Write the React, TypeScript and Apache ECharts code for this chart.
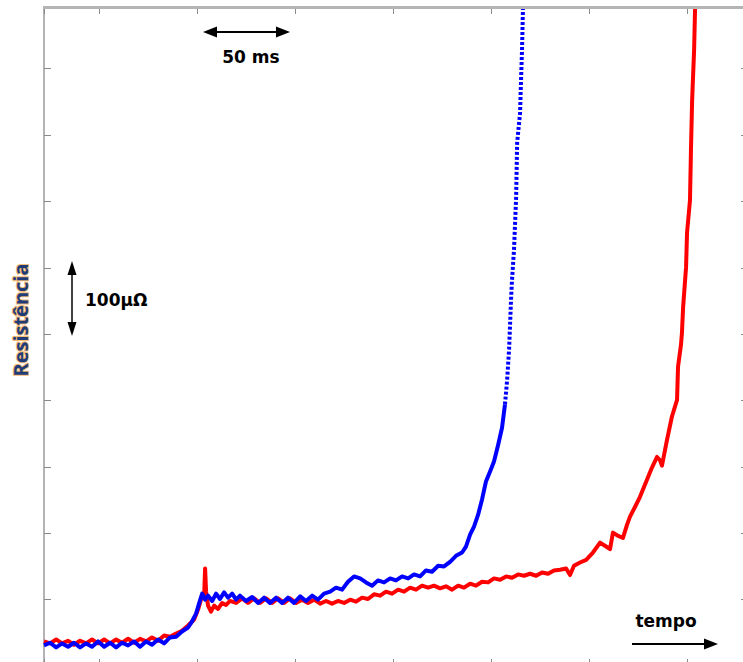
import React, { useEffect, useRef } from "react";
import * as echarts from "echarts";

// time in ms, resistance in µΩ
const blueTime = [
  21.9, 25.0, 28.1, 31.1, 34.2, 37.2, 40.3, 43.4, 46.4, 49.5, 52.6, 55.6, 58.7, 61.7, 64.8, 67.9, 70.9, 74.0, 77.0, 80.1,
  83.2, 86.2, 89.3, 92.3, 95.4, 97.4, 99.5, 101.0, 102.6, 104.1, 105.6, 107.7, 109.7, 111.7, 113.8, 115.8, 117.9, 119.9, 121.9, 125.0,
  128.1, 131.1, 134.2, 137.2, 140.3, 143.4, 146.4, 149.5, 152.6, 155.6, 158.7, 161.7, 164.8, 167.9, 170.9, 174.0, 177.0, 180.1, 183.2, 186.2,
  189.3, 192.3, 195.4, 198.5, 201.5, 204.6, 207.7, 210.7, 213.8, 216.8, 219.9, 223.0, 226.0, 229.1, 232.1, 235.2, 237.2, 239.3, 241.3, 243.4,
  245.4, 247.4, 249.5, 251.5, 253.6, 255.6, 257.1, 258.2, 259.2, 260.2, 260.7, 261.7, 262.8, 263.3, 264.8, 265.3, 265.8, 266.3,
];
const blueRes = [
  31, 35, 28, 34, 29, 35, 28, 34, 29, 37, 29, 35, 28, 35, 31, 37, 29, 37, 32, 40,
  34, 43, 44, 52, 58, 67, 79, 94, 109, 100, 106, 98, 109, 101, 111, 103, 109, 100, 106, 98,
  104, 95, 103, 95, 103, 95, 103, 95, 105, 98, 106, 100, 109, 112, 118, 115, 127, 135, 132, 126,
  121, 129, 126, 132, 129, 135, 132, 138, 135, 144, 142, 151, 150, 157, 166, 171, 180, 198, 210, 228,
  251, 278, 293, 308, 333, 359, 394, 431, 477, 552, 582, 627, 707, 788, 833, 883, 928, 992,
];

const redTime = [
  21.9, 25.0, 28.1, 31.1, 34.2, 37.2, 40.3, 43.4, 46.4, 49.5, 52.6, 55.6, 58.7, 61.7, 64.8, 67.9, 70.9, 74.0, 77.0, 80.1,
  83.2, 86.2, 89.3, 92.3, 95.4, 98.5, 100.5, 102.0, 103.6, 104.1, 104.6, 105.6, 107.1, 108.7, 110.7, 112.8, 114.8, 116.8, 119.9, 123.0,
  126.0, 129.1, 132.1, 135.2, 138.3, 141.3, 144.4, 147.4, 150.5, 153.6, 156.6, 159.7, 162.8, 165.8, 168.9, 171.9, 175.0, 178.1, 181.1, 184.2,
  187.2, 190.3, 193.4, 196.4, 199.5, 202.6, 205.6, 208.7, 211.7, 214.8, 217.9, 220.9, 224.0, 227.0, 230.1, 233.2, 236.2, 239.3, 242.3, 245.4,
  248.5, 251.5, 254.6, 257.7, 260.7, 263.8, 266.8, 269.9, 273.0, 276.0, 279.1, 282.1, 285.2, 288.3, 290.3, 292.3, 295.4, 298.5, 302.0, 305.6,
  308.7, 310.7, 312.2, 314.8, 317.3, 319.4, 320.9, 323.5, 326.0, 329.6, 332.1, 334.7, 336.2, 337.2, 338.8, 339.8, 342.3, 344.9, 345.4, 346.9,
  347.4, 348.0, 349.5, 350.0, 351.5, 352.0, 352.6, 353.6, 354.1,
];
const redRes = [
  37, 34, 40, 34, 38, 32, 38, 34, 40, 34, 40, 34, 40, 35, 41, 35, 41, 37, 43, 38,
  46, 44, 49, 53, 61, 70, 85, 100, 105, 147, 112, 91, 82, 91, 86, 95, 92, 98, 95, 102,
  95, 102, 95, 102, 95, 102, 95, 102, 95, 100, 95, 100, 94, 98, 94, 98, 95, 100, 97, 103,
  101, 108, 106, 112, 109, 115, 112, 118, 115, 121, 118, 121, 117, 120, 115, 121, 118, 124, 121, 127,
  126, 132, 130, 135, 133, 138, 136, 139, 136, 141, 139, 144, 145, 147, 137, 151, 156, 160, 171, 186,
  180, 176, 201, 196, 193, 213, 225, 240, 255, 281, 299, 315, 310, 302, 326, 341, 376, 401, 451, 484,
  502, 541, 601, 653, 702, 778, 853, 928, 992,
];

const xMin = 21.9;
const xMax = 381.1;
const yMin = 0;
const yMax = 991.5;
const tickX = 50; // ms per tick
const tickY = 100; // µΩ per tick

const labels = {
  time: "50 ms",
  res: "100μΩ",
  tempo: "tempo",
  axis: "Resistência",
};

const FRAME = "#b4b4b4";
const AXIS_LINE = { show: true, onZero: false, lineStyle: { color: FRAME, width: 2 } };
const AXIS_TICK = { show: true, inside: true, length: 7, lineStyle: { color: "#8a8a8a", width: 1 } };

export default function App() {
  const ref = useRef<HTMLDivElement>(null);
  useEffect(() => {
    if (!ref.current) return;
    const chart = echarts.init(ref.current, undefined, { renderer: "svg" });
    const red = redTime.map((t, i) => [t, redRes[i]]);
    const blue = blueTime.map((t, i) => [t, blueRes[i]]);
    const split = blueTime.findIndex((t) => t >= 257.1);
    const blueSolid = blue.slice(0, split + 1);
    const blueDotted = blue.slice(split);

    const xAxisBase = {
      type: "value",
      min: xMin,
      max: xMax,
      minInterval: tickX,
      maxInterval: tickX,
      splitNumber: 7,
      axisLine: AXIS_LINE,
      axisTick: AXIS_TICK,
      axisLabel: { show: false },
      splitLine: { show: false },
    };
    const yAxisBase = {
      type: "value",
      min: yMin,
      max: yMax,
      minInterval: tickY,
      maxInterval: tickY,
      splitNumber: 10,
      axisLine: AXIS_LINE,
      axisTick: AXIS_TICK,
      axisLabel: { show: false },
      splitLine: { show: false },
    };
    const font = "bold 17px 'DejaVu Sans', sans-serif";
    const black = "#000";
    chart.setOption({
      animation: false,
      backgroundColor: "#fff",
      grid: [
        { left: 44, top: 8, right: 52, bottom: 34, containLabel: false },
        // thin strip under the top edge that carries the top tick marks
        { left: 44, top: 8, right: 52, height: 6, containLabel: false },
      ],
      xAxis: [
        { ...xAxisBase, gridIndex: 0, position: "bottom" },
        { ...xAxisBase, gridIndex: 1, position: "bottom", axisLine: { show: false }, axisTick: { ...AXIS_TICK, length: 6 } },
      ],
      yAxis: [
        { ...yAxisBase, gridIndex: 0, position: "left" },
        { ...yAxisBase, gridIndex: 0, position: "right" },
        { type: "value", gridIndex: 1, show: false, min: 0, max: 1 },
      ],
      series: [
        {
          type: "line",
          data: red,
          xAxisIndex: 0,
          yAxisIndex: 0,
          showSymbol: false,
          symbol: "none",
          lineStyle: { color: "#ff0000", width: 4, join: "round" },
          z: 2,
        },
        {
          type: "line",
          data: blueSolid,
          xAxisIndex: 0,
          yAxisIndex: 0,
          showSymbol: false,
          symbol: "none",
          lineStyle: { color: "#0000ff", width: 4, join: "round" },
          z: 3,
        },
        {
          type: "line",
          data: blueDotted,
          xAxisIndex: 0,
          yAxisIndex: 0,
          showSymbol: false,
          symbol: "none",
          lineStyle: { color: "#0000ff", width: 4, type: [3, 2] },
          z: 3,
        },
      ],
      graphic: [
        // top frame edge
        { type: "line", z: 100, shape: { x1: 43, y1: 7.5, x2: 760, y2: 7.5 }, style: { stroke: FRAME, lineWidth: 3 } },
        // 50 ms arrow
        { type: "line", shape: { x1: 212, y1: 32, x2: 281, y2: 32 }, style: { stroke: black, lineWidth: 2 } },
        { type: "polygon", shape: { points: [[203, 32], [217, 26.5], [217, 37.5]] }, style: { fill: black } },
        { type: "polygon", shape: { points: [[290, 32], [276, 26.5], [276, 37.5]] }, style: { fill: black } },
        { type: "text", style: { text: labels.time, x: 251, y: 57, font, fill: black, align: "center", verticalAlign: "middle" } },
        // 100 µΩ arrow
        { type: "line", shape: { x1: 72, y1: 270, x2: 72, y2: 327 }, style: { stroke: black, lineWidth: 1.5 } },
        { type: "polygon", shape: { points: [[72, 261], [67.5, 275], [76.5, 275]] }, style: { fill: black } },
        { type: "polygon", shape: { points: [[72, 336], [67.5, 322], [76.5, 322]] }, style: { fill: black } },
        { type: "text", style: { text: labels.res, x: 85, y: 300, font, fill: black, align: "left", verticalAlign: "middle" } },
        // tempo arrow
        { type: "line", shape: { x1: 632, y1: 644, x2: 708, y2: 644 }, style: { stroke: black, lineWidth: 2 } },
        { type: "polygon", shape: { points: [[718, 644], [704, 638.5], [704, 649.5]] }, style: { fill: black } },
        { type: "text", style: { text: labels.tempo, x: 666, y: 621, font, fill: black, align: "center", verticalAlign: "middle" } },
        // y axis title
        {
          type: "text",
          x: 20,
          y: 320,
          rotation: Math.PI / 2,
          style: {
            text: labels.axis,
            x: 0,
            y: 0,
            font: "bold 20px 'Open Sans', sans-serif",
            fill: "#1f3c78",
            align: "center",
            verticalAlign: "middle",
            stroke: "rgba(240,165,70,0.75)",
            lineWidth: 2,
          },
        },
      ],
    });
    return () => chart.dispose();
  }, []);
  return (
    <div style={{ position: "fixed", left: 0, top: 0, width: 743, height: 662, overflow: "hidden", background: "#fff" }}>
      <div ref={ref} style={{ width: 800, height: 700 }} />
    </div>
  );
}
